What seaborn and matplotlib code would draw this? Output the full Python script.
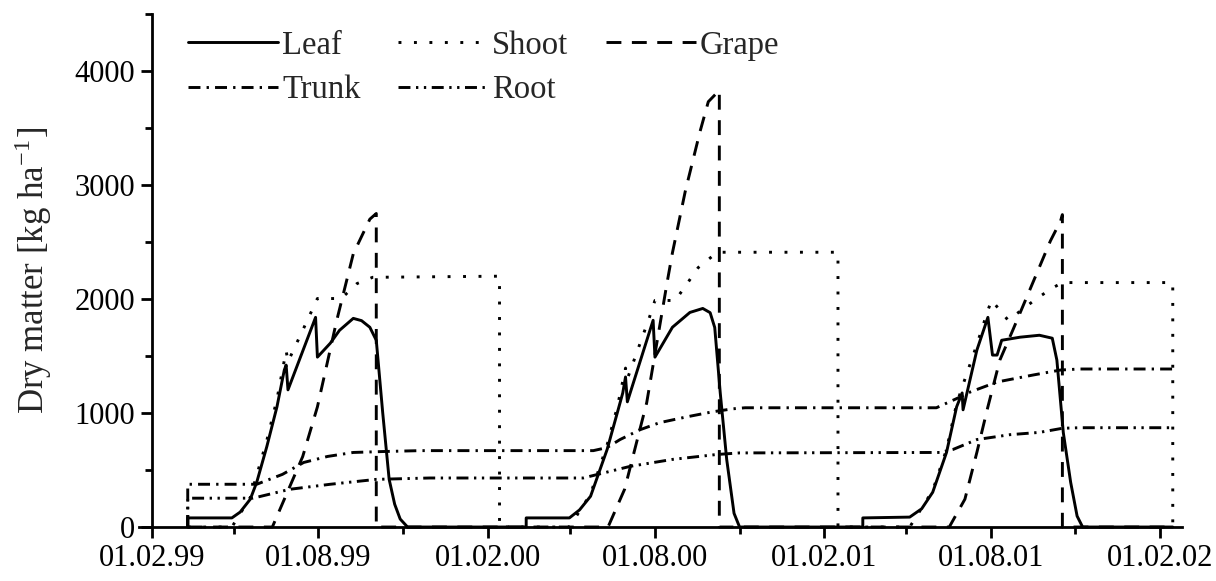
import numpy as np
import pandas as pd
import matplotlib
matplotlib.use("Agg")
import matplotlib.pyplot as plt
import matplotlib.dates as mdates
from matplotlib.lines import Line2D
from matplotlib.ticker import MultipleLocator
import seaborn as sns

# Simulated dry matter of the vine organs, days counted from 1 Feb 1999
START = pd.Timestamp("1999-02-01")

leaf_day = [39, 39, 87, 96, 107, 114, 125, 136, 144, 146, 148, 178, 180, 194, 204, 219, 228, 237, 244, 251, 258, 264, 270, 278,
            407, 407, 454, 465, 477, 495, 506, 512, 515, 517, 545, 547, 566, 585, 599, 607, 612, 618, 625, 633, 639,
            773, 773, 824, 837, 849, 864, 875, 881, 882, 897, 909, 914, 919, 924, 944, 965, 979, 984, 991, 999, 1006, 1012, 1110]
leaf_dm = [0, 80, 80, 131, 244, 392, 706, 1054, 1377, 1420, 1203, 1839, 1490, 1612, 1725, 1830, 1810, 1752, 1638, 1002, 418, 200, 70, 0,
           0, 80, 80, 150, 270, 680, 1000, 1176, 1316, 1098, 1813, 1490, 1752, 1882, 1917, 1880, 1750, 1176, 593, 120, 0,
           0, 80, 87, 160, 305, 654, 1054, 1176, 1028, 1551, 1839, 1508, 1508, 1638, 1665, 1682, 1656, 1464, 828, 392, 96, 0, 0]

shoot_day = [39, 87, 107, 125, 136, 146, 148, 164, 180, 206, 223, 240, 378, 378,
             407, 454, 477, 495, 506, 515, 517, 541, 547, 569, 582, 594, 610, 617, 746, 746,
             773, 824, 849, 864, 875, 882, 897, 909, 913, 931, 962, 980, 990, 1110, 1110]
shoot_dm = [0, 0, 260, 760, 1120, 1546, 1450, 1725, 2004, 2004, 2135, 2190, 2200, 0,
            0, 0, 290, 720, 1050, 1394, 1300, 1839, 1987, 1987, 2135, 2275, 2379, 2410, 2410, 0,
            0, 0, 320, 680, 1080, 1250, 1600, 1900, 1990, 1813, 2004, 2100, 2144, 2144, 0]

grape_day = [39, 131, 164, 180, 201, 219, 237, 244, 244,
             496, 514, 538, 560, 566, 580, 588, 596, 605, 617, 617,
             867, 884, 897, 909, 922, 936, 962, 977, 988, 990, 990, 1110]
grape_dm = [0, 0, 618, 1054, 1812, 2396, 2700, 2750, 0,
            0, 331, 1089, 2135, 2405, 2946, 3207, 3468, 3730, 3830, 0,
            0, 244, 654, 1054, 1464, 1725, 2222, 2510, 2684, 2740, 0, 0]

trunk_day = [39, 39, 114, 142, 165, 191, 219, 251, 292, 480, 495, 509, 531, 552, 582, 610, 632, 645,
             853, 879, 890, 919, 958, 988, 1009, 1110]
trunk_dm = [0, 375, 375, 462, 566, 619, 654, 662, 670, 670, 697, 767, 854, 915, 967, 1011, 1037, 1046,
            1046, 1141, 1185, 1272, 1333, 1377, 1386, 1386]

root_day = [39, 39, 110, 150, 194, 244, 302, 469, 520, 566, 614, 639,
            857, 871, 897, 933, 965, 990, 1009, 1110]
root_dm = [0, 253, 253, 331, 375, 418, 430, 430, 532, 593, 636, 650,
           654, 680, 767, 810, 830, 866, 871, 871]

organs = ["Leaf", "Shoot", "Grape", "Trunk", "Root"]
series = {
    "Leaf": (leaf_day, leaf_dm),
    "Shoot": (shoot_day, shoot_dm),
    "Grape": (grape_day, grape_dm),
    "Trunk": (trunk_day, trunk_dm),
    "Root": (root_day, root_dm),
}

frames = []
for name in organs:
    d, v = series[name]
    frames.append(pd.DataFrame({
        "date": START + pd.to_timedelta(np.asarray(d), unit="D"),
        "dm": v,
        "organ": name,
    }))
df = pd.concat(frames, ignore_index=True)

# line styles (in units of line width)
dash_map = {
    "Leaf": "",
    "Shoot": (1.0, 4.3),
    "Grape": (5.1, 3.6),
    "Trunk": (4.1, 2.1, 0.8, 2.1),
    "Root": (4.1, 1.9, 0.8, 1.9, 0.8, 1.9),
}

sns.set_theme(style="ticks")
plt.rcParams["font.family"] = ["Liberation Serif", "DejaVu Serif"]
plt.rcParams["mathtext.fontset"] = "stix"

LW = 2.1
fig = plt.figure(figsize=(12.16, 5.81), dpi=100)
ax = fig.add_axes([0.1143, 0.0929, 0.8577, 0.8831])

sns.lineplot(data=df, x="date", y="dm", style="organ", style_order=organs,
             dashes=dash_map, color="black", lw=LW, estimator=None, sort=False,
             legend=False, ax=ax)
for ln in ax.lines:
    ln.set_clip_on(False)
    ln.set_dash_capstyle("butt")

ax.set_xlim(START - pd.Timedelta(days=14), START + pd.Timedelta(days=1120))
ax.set_ylim(0, 4500)

ax.xaxis.set_major_locator(mdates.MonthLocator(bymonth=[2, 8], bymonthday=1))
ax.xaxis.set_minor_locator(mdates.MonthLocator(bymonth=[5, 11], bymonthday=1))
ax.xaxis.set_major_formatter(mdates.DateFormatter("%d.%m.%y"))
ax.yaxis.set_major_locator(MultipleLocator(1000))
ax.yaxis.set_minor_locator(MultipleLocator(500))

ax.spines["left"].set_position(("data", mdates.date2num(START)))
for side in ["top", "right"]:
    ax.spines[side].set_visible(False)
for side in ["left", "bottom"]:
    ax.spines[side].set_linewidth(2.0)
    ax.spines[side].set_color("black")

ax.tick_params(which="major", direction="out", length=8, width=2, labelsize=22,
               colors="black", pad=4)
ax.tick_params(which="minor", direction="out", length=5, width=2, colors="black")

ax.set_xlabel("")
ax.set_ylabel(r"Dry matter [kg ha$^{\mathregular{-1}}$]", fontsize=25, labelpad=15)

handles = []
for name in ["Leaf", "Trunk", "Shoot", "Root", "Grape"]:
    pat = dash_map[name]
    if pat == "":
        h = Line2D([], [], color="black", lw=LW, ls="-")
    else:
        h = Line2D([], [], color="black", lw=LW, dashes=pat, dash_capstyle="butt")
    handles.append(h)
ax.legend(handles, ["Leaf", "Trunk", "Shoot", "Root", "Grape"], ncol=3, frameon=False,
          loc="upper left", bbox_to_anchor=(0.047, 0.968), borderaxespad=0, borderpad=0,
          fontsize=23.5, handlelength=2.76, handletextpad=0.12, columnspacing=1.15,
          labelspacing=0.42)

fig.savefig("out.png", dpi=100)
